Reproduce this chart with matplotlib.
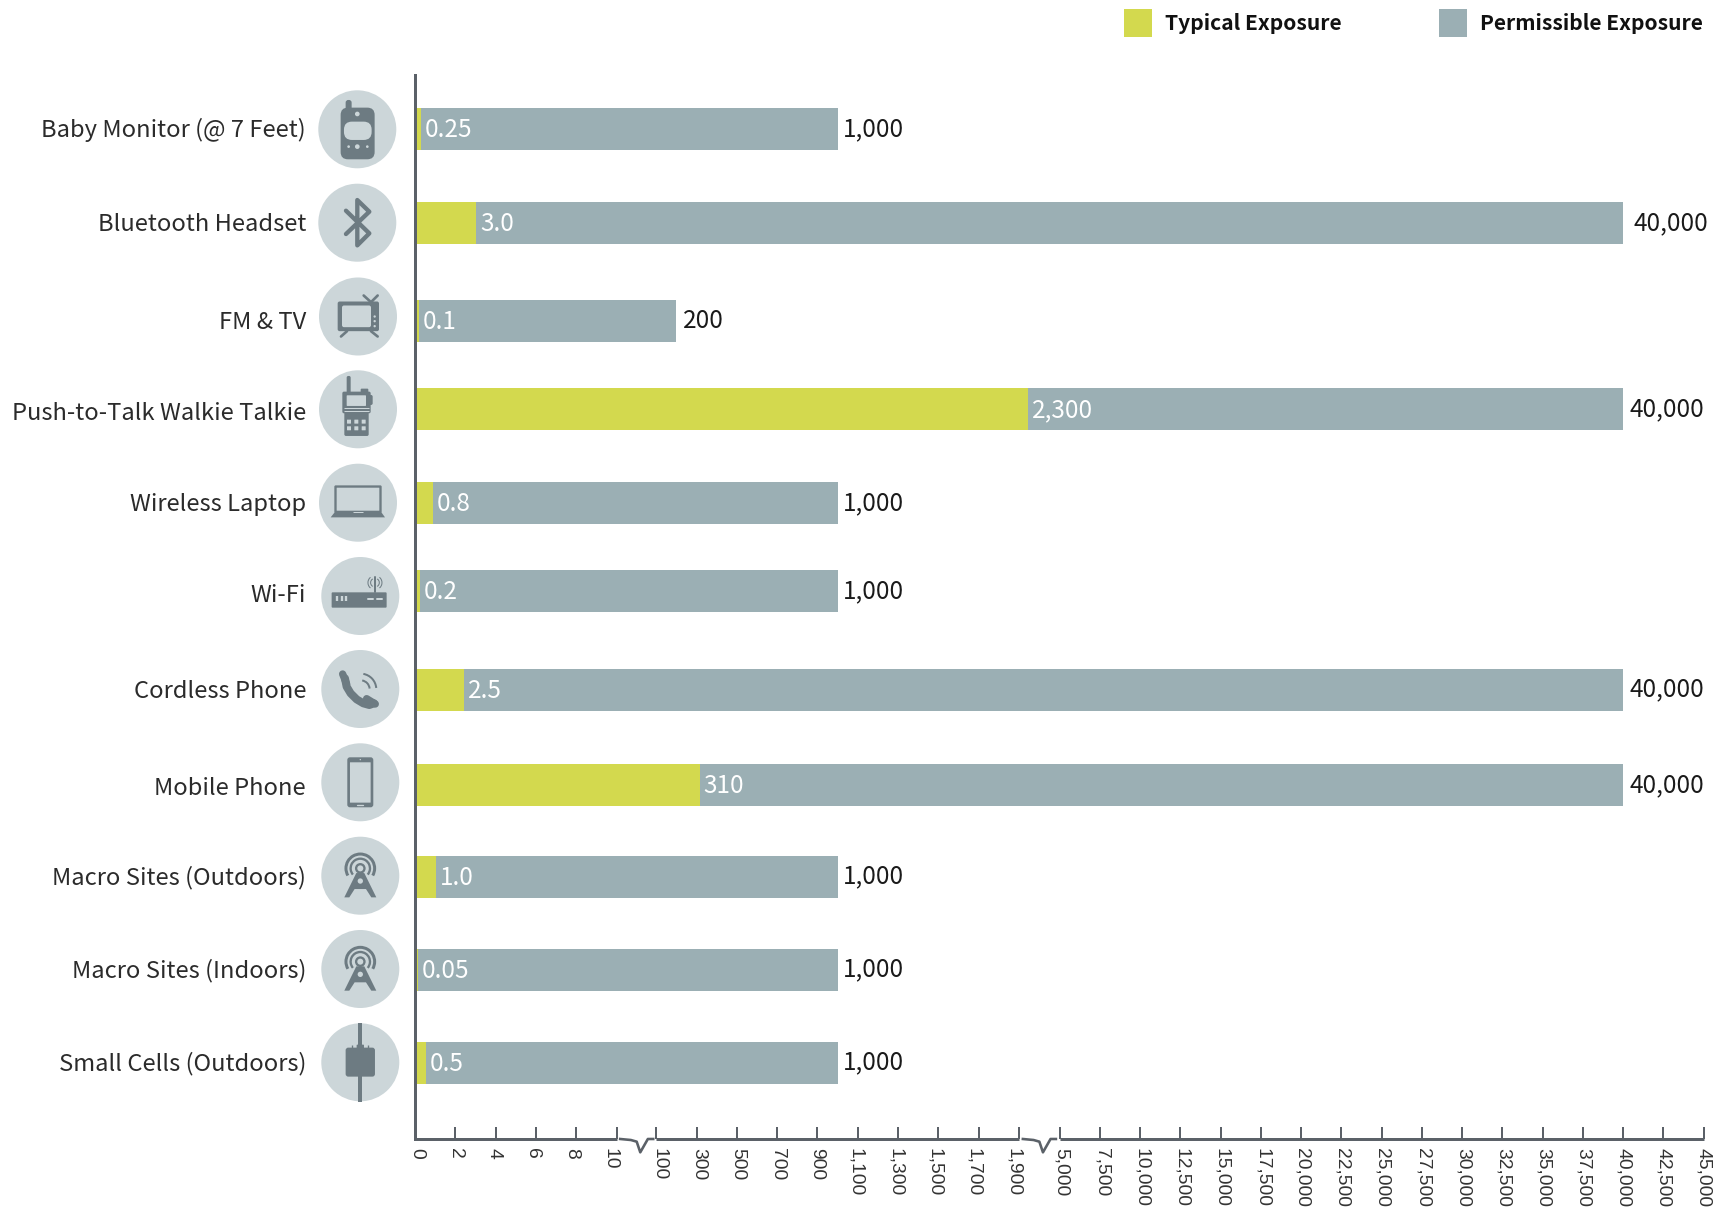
import numpy as np
import matplotlib
matplotlib.use("Agg")
import matplotlib.pyplot as plt
from matplotlib.patches import Circle, Rectangle, FancyBboxPatch, Polygon, Arc
from matplotlib.transforms import Affine2D, ScaledTranslation

# data
devices = ["Baby Monitor (@ 7 Feet)", "Bluetooth Headset", "FM & TV", "Push-to-Talk Walkie Talkie",
           "Wireless Laptop", "Wi-Fi", "Cordless Phone", "Mobile Phone",
           "Macro Sites (Outdoors)", "Macro Sites (Indoors)", "Small Cells (Outdoors)"]
typical = [0.3, 3.05, 0.2, 2600, 0.9, 0.25, 2.45, 315, 1.05, 0.15, 0.55]  # bar lengths
typical_labels = ["0.25", "3.0", "0.1", "2,300", "0.8", "0.2", "2.5", "310", "1.0", "0.05", "0.5"]
permissible = [1000, 40000, 200, 40000, 1000, 1000, 40000, 40000, 1000, 1000, 1000]
permissible_labels = ["1,000", "40,000", "200", "40,000", "1,000", "1,000", "40,000", "40,000", "1,000", "1,000", "1,000"]
ticks_low = [0, 2, 4, 6, 8, 10]
ticks_mid = [100, 300, 500, 700, 900, 1100, 1300, 1500, 1700, 1900]
ticks_high = [5000, 7500, 10000, 12500, 15000, 17500, 20000, 22500, 25000, 27500, 30000,
              32500, 35000, 37500, 40000, 42500, 45000]
ticks = ticks_low + ticks_mid + ticks_high

# layout (pixels of the 1717x1213 picture)
row_y = [129, 223, 321, 409, 503, 591, 690, 785, 877, 970, 1063]
circle_x = [357.3, 357.3, 358, 358, 358, 360.3, 360.3, 360.3, 360.3, 360.3, 360.3]
circle_y = [129.3, 222.7, 316.5, 409.3, 502.7, 596, 689, 782.3, 875.7, 969, 1062.3]
perm_pad = [5, 11, 7, 7, 5, 5, 7, 7, 5, 5, 5]
label_shift = [-1, 0, 0, 3, 0, 3, 0, 2, -1, -1, -1]
value_shift = [0, 0, 0, 0, 0, 0, 1, 0, 1, 1, 1]
# the printed tick labels drift a little against their ticks
tick_shift = list(np.linspace(2.2, -6.6, 6)) + list(np.linspace(2.7, -5.5, 10)) + list(np.linspace(2, 0, 17))

YELLOW = "#d3d94e"
GREY = "#9bafb4"
AXIS = "#5b6168"
DISC = "#ccd6d9"
ICON = "#6d7b82"
FONT = ["Noto Sans CJK SC", "DejaVu Sans"]
PX = 0.72  # one pixel in points at dpi 100
AXIS_Y = 1139

plt.rcParams["font.family"] = FONT

# the axis is cut in three linear stretches
scale_val = [0, 10, 100, 1900, 5000, 45000]
scale_pos = [0, 201.6, 241.3, 603.8, 644.5, 1288.5]

def forward(x):
    return np.interp(x, scale_val, scale_pos)

def inverse(p):
    return np.interp(p, scale_pos, scale_val)

fig = plt.figure(figsize=(17.17, 12.13), dpi=100)

# overlay in pixels for the icons and the legend
bg = fig.add_axes([0, 0, 1, 1])
bg.set_xlim(0, 1717)
bg.set_ylim(1213, 0)
bg.axis("off")

ax = fig.add_axes([415 / 1717, 1 - AXIS_Y / 1213, 1288.5 / 1717, (AXIS_Y - 75) / 1213])
ax.patch.set_alpha(0)
ax.set_xscale("function", functions=(forward, inverse))
ax.set_xlim(0, 45000)
ax.set_ylim(AXIS_Y, 75)

ax.barh(row_y, permissible, height=42, color=GREY, zorder=1)
ax.barh(row_y, typical, height=42, color=YELLOW, zorder=2)

for y, t, tl, p, pl, pad, vs in zip(row_y, typical, typical_labels, permissible, permissible_labels, perm_pad, value_shift):
    ax.annotate(tl, (t, y), xytext=(4 * PX, -1 * PX), textcoords="offset points", color="white",
                fontsize=17.5, va="center", ha="left", zorder=3)
    ax.annotate(pl, (p, y), xytext=(pad * PX, vs * PX), textcoords="offset points", color="#1a1a1a",
                fontsize=17.5, va="center", ha="left", zorder=3, annotation_clip=False)

for side in ["top", "right", "bottom"]:
    ax.spines[side].set_visible(False)
ax.spines["left"].set_color(AXIS)
ax.spines["left"].set_linewidth(3 * PX)

ax.set_yticks(row_y)
ax.set_yticklabels(devices, fontsize=17.1, color="#2b2b2b")
ax.tick_params(axis="y", length=0, pad=109 * PX)
for lab, dy in zip(ax.get_yticklabels(), label_shift):
    lab.set_transform(lab.get_transform() + ScaledTranslation(0, (1 - dy) / 100, fig.dpi_scale_trans))

ax.set_xticks(ticks)
ax.set_xticklabels([f"{t:,}" for t in ticks], rotation=270, fontsize=13.9, color="#333333",
                   family="Liberation Sans", va="top", ha="center")
ax.tick_params(axis="x", direction="in", length=11.7 * PX, width=2 * PX, color=AXIS, pad=9 * PX)
for lab, dx in zip(ax.get_xticklabels(), tick_shift):
    lab.set_transform(lab.get_transform() + ScaledTranslation(dx / 100, 0, fig.dpi_scale_trans))

for a, b in [(0, 10), (100, 1900), (5000, 45000)]:
    ax.plot([a, b], [AXIS_Y, AXIS_Y], color=AXIS, lw=3 * PX, clip_on=False, zorder=4, solid_capstyle="butt")

# axis breaks
for x0 in [0, 902]:
    sx = [538, 562, 575, 583, 600, 612]
    sy = [117, 120, 125, 157, 117, 117]
    bg.plot([380 + (v + x0) / 2.24 for v in sx], [1100 + v / 3 for v in sy], color=AXIS, lw=2.6 * PX)

# legend
for x, col, txt, tx in [(1124, YELLOW, "Typical Exposure", 1165), (1438.5, GREY, "Permissible Exposure", 1479.5)]:
    bg.add_patch(Rectangle((x, 9), 28, 28, color=col, lw=0))
    bg.text(tx, 24, txt, fontsize=15.15, fontweight="bold", color="#111111", va="center", ha="left")


# icons, drawn in the 3x crop coordinates around each disc centre
def tr(i, zx, zy):
    return Affine2D().translate(-zx, -zy).scale(1 / 3).translate(circle_x[i], circle_y[i]) + bg.transData


def box(t, x0, y0, x1, y1, col=ICON, r=4):
    bg.add_patch(FancyBboxPatch((x0 + r, y0 + r), x1 - x0 - 2 * r, y1 - y0 - 2 * r,
                                boxstyle=f"round,pad={r},rounding_size={r}", fc=col, ec="none", transform=t))


def stroke(t, xs, ys, w, col=ICON, cap="round"):
    bg.plot(xs, ys, color=col, lw=w * PX / 3, transform=t, solid_capstyle=cap, solid_joinstyle="round")


def dot(t, x, y, r, col=ICON):
    bg.add_patch(Circle((x, y), r, fc=col, ec="none", transform=t))


def arc(t, x, y, r, a, b, w):
    # angles counted clockwise on screen, y points down here
    bg.add_patch(Arc((x, y), 2 * r, 2 * r, theta1=a, theta2=b, color=ICON, lw=w * PX / 3, transform=t))


for x, y in zip(circle_x, circle_y):
    bg.add_patch(Circle((x, y), 39, fc=DISC, ec="none"))

# baby monitor
t = tr(0, 172, 178)
box(t, 137, 90, 155, 125, r=8)
box(t, 122, 113, 224, 268, r=22)
box(t, 132, 155, 215, 210, col=DISC, r=24)
dot(t, 172, 132, 7, DISC)
dot(t, 172, 230, 7, DISC)
dot(t, 146, 230, 4, DISC)
dot(t, 202, 230, 4, DISC)

# bluetooth
t = tr(1, 172, 458)
stroke(t, [138, 208, 172, 172, 208, 138], [492, 425, 390, 526, 490, 422], 13)

# tv
t = tr(2, 173, 738)
stroke(t, [122, 140], [798, 782], 8)
stroke(t, [232, 212], [798, 782], 8)
stroke(t, [190, 212, 232], [675, 695, 675], 8)
box(t, 112, 693, 236, 782, r=6)
box(t, 125, 705, 212, 770, col=DISC, r=6)
for y in [738, 752, 767]:
    dot(t, 223, y, 3.5, DISC)

# walkie talkie
t = tr(3, 174, 148)
box(t, 140, 48, 152, 100, r=5)
box(t, 182, 86, 205, 100, r=3)
box(t, 205, 105, 218, 135, r=5)
box(t, 127, 95, 212, 160, r=5)
box(t, 133, 150, 206, 228, r=5)
box(t, 140, 106, 198, 138, col=DISC, r=2)
stroke(t, [133, 206], [145, 145], 3, DISC, "butt")
stroke(t, [133, 206], [152, 152], 3, DISC, "butt")
for bx in [147, 169, 191]:
    for by in [185, 205]:
        box(t, bx - 6, by - 6, bx + 6, by + 6, col=DISC, r=1)

# laptop
t = tr(4, 174, 428)
box(t, 103, 376, 245, 460, r=4)
box(t, 110, 383, 238, 452, col=DISC, r=1)
bg.add_patch(Polygon([(92, 472), (255, 472), (245, 458), (103, 458)], fc=ICON, ec="none", transform=t))
stroke(t, [160, 188], [455, 455], 3, DISC, "butt")

# wifi
t = tr(5, 181, 708)
box(t, 95, 697, 260, 743, r=3)
stroke(t, [225, 225], [652, 697], 6)
arc(t, 225, 668, 13, -60, 60, 3)
arc(t, 225, 668, 13, 120, 240, 3)
arc(t, 225, 668, 21, -50, 50, 3)
arc(t, 225, 668, 21, 130, 230, 3)
for vx in [111, 125, 139]:
    stroke(t, [vx, vx], [709, 723], 7, DISC, "butt")
stroke(t, [203, 218], [716, 716], 6, DISC)
stroke(t, [231, 245], [716, 716], 6, DISC)

# cordless phone
t = tr(6, 181, 147)
hx = [135, 140, 152, 170, 190, 208, 222]
hy = [115, 140, 160, 178, 190, 195, 190]
stroke(t, hx, hy, 24)
stroke(t, [128, 140], [102, 132], 22)
stroke(t, [200, 226], [176, 192], 22)
arc(t, 182, 148, 27, -80, -5, 6)
arc(t, 182, 148, 47, -80, -5, 6)

# mobile
t = tr(7, 181, 427)
box(t, 142, 352, 220, 502, r=8)
box(t, 150, 367, 212, 488, col=DISC, r=1)
dot(t, 181, 359, 2, DISC)
stroke(t, [172, 190], [494, 494], 4, DISC)


# macro sites
def tower(i, zx, zy):
    t = tr(i, zx, zy)
    arc(t, zx, zy - 22, 43, 150, 390, 9)
    arc(t, zx, zy - 22, 29, 140, 400, 7)
    dot(t, zx, zy - 22, 16)
    dot(t, zx, zy - 22, 9, DISC)
    bg.add_patch(Polygon([(zx - 48, zy + 65), (zx - 33, zy + 65), (zx - 17, zy + 40), (zx + 17, zy + 40),
                          (zx + 33, zy + 65), (zx + 48, zy + 65), (zx + 12, zy - 8), (zx - 12, zy - 8)],
                         fc=ICON, ec="none", transform=t))
    dot(t, zx, zy + 16, 8, DISC)


tower(8, 181, 707)
tower(9, 181, 207)

# small cell
t = tr(10, 181, 487)
stroke(t, [181, 181], [370, 605], 12, cap="butt")
box(t, 170, 434, 192, 450, r=2)
stroke(t, [155, 155], [434, 448], 4, cap="butt")
stroke(t, [205, 205], [434, 448], 4, cap="butt")
box(t, 137, 443, 225, 530, r=8)

fig.savefig("out.png", dpi=100)
